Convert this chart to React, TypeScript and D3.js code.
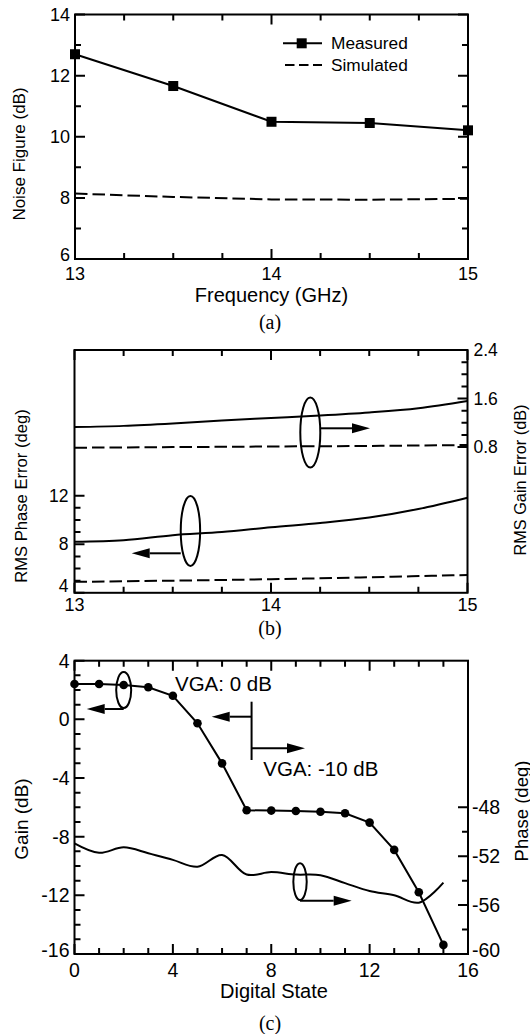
import React from 'react';
import * as d3 from 'd3';

// ---------- (a) Noise figure vs frequency ----------
const nfFreq = [13, 13.5, 14, 14.5, 15];
const nfMeasured = [12.7, 11.66, 10.49, 10.45, 10.21];
const nfSimulated = [8.14, 8.03, 7.95, 7.94, 7.97];
const nfYLabels = [6, 8, 10, 12, 14];
const freqLabels = [13, 14, 15];

// ---------- (b) RMS phase / gain error vs frequency ----------
const errFreq = [13, 13.25, 13.5, 13.75, 14, 14.25, 14.5, 14.75, 15];
const phaseErrMeasured = [8.2, 8.33, 8.75, 9.0, 9.4, 9.75, 10.2, 10.9, 11.83];
const gainErrMeasured = [1.13, 1.15, 1.19, 1.24, 1.28, 1.32, 1.37, 1.44, 1.56];
const errSimFreq = [13, 13.5, 14, 14.5, 15];
const phaseErrSimulated = [4.9, 5.0, 5.12, 5.28, 5.47];
const gainErrSimulated = [0.79, 0.8, 0.81, 0.82, 0.835];
const phaseErrLabels = [4, 8, 12];
const gainErrLabels = [0.8, 1.6, 2.4];

// ---------- (c) Gain and phase vs digital state ----------
const states = [0, 1, 2, 3, 4, 5, 6, 7, 8, 9, 10, 11, 12, 13, 14, 15];
const gainDb = [2.41, 2.41, 2.34, 2.19, 1.61, -0.27, -3.0, -6.2, -6.22, -6.25, -6.3, -6.4, -7.04, -8.9, -11.79, -15.38];
const phaseDeg = [-50.94, -51.72, -51.27, -51.75, -52.3, -52.86, -51.9, -53.5, -53.3, -53.5, -53.55, -54.2, -54.85, -55.2, -55.8, -54.16];
const stateLabels = [0, 4, 8, 12, 16];
const gainLabels = [-16, -12, -8, -4, 0, 4];
const phaseLabels = [-60, -56, -52, -48];

const SANS = "'Liberation Sans', Arial, Helvetica, sans-serif";
const SERIF = "'Liberation Serif', 'Times New Roman', serif";
const INK = '#000';

type Side = 'left' | 'right' | 'top' | 'bottom';

function seq(a: number, b: number, step: number): number[] {
  const out: number[] = [];
  for (let i = 0; a + i * step <= b + 1e-9; i++) out.push(+(a + i * step).toFixed(6));
  return out;
}

function tickPath(values: number[], scale: (v: number) => number, side: Side, edge: number, len: number) {
  return values
    .map((v) => {
      const p = scale(v);
      if (side === 'left') return `M${edge},${p}h${len}`;
      if (side === 'right') return `M${edge},${p}h${-len}`;
      if (side === 'bottom') return `M${p},${edge}v${-len}`;
      return `M${p},${edge}v${len}`;
    })
    .join('');
}

function Ticks(props: { values: number[]; majors: number[]; scale: (v: number) => number; side: Side; edge: number }) {
  const { values, majors, scale, side, edge } = props;
  const isMajor = (v: number) => majors.some((m) => Math.abs(m - v) < 1e-6);
  return (
    <>
      <path d={tickPath(values.filter((v) => !isMajor(v)), scale, side, edge, 6)} stroke={INK} strokeWidth={2} fill="none" />
      <path d={tickPath(values.filter(isMajor), scale, side, edge, 10)} stroke={INK} strokeWidth={2} fill="none" />
    </>
  );
}

function Arrow(props: { x1: number; x2: number; y: number }) {
  const { x1, x2, y } = props;
  const dir = Math.sign(x2 - x1);
  const head = 18;
  const half = 5;
  return (
    <g>
      <line x1={x1} y1={y} x2={x2 - dir * head} y2={y} stroke={INK} strokeWidth={2} />
      <path d={`M${x2},${y}L${x2 - dir * head},${y - half}L${x2 - dir * head},${y + half}Z`} fill={INK} />
    </g>
  );
}

function YTitle(props: { x: number; y: number; size: number; text: string }) {
  return (
    <text
      transform={`translate(${props.x},${props.y}) rotate(-90)`}
      textAnchor="middle"
      dominantBaseline="central"
      fontFamily={SANS}
      fontSize={props.size}
      fill={INK}
    >
      {props.text}
    </text>
  );
}

function PanelA() {
  const x = d3.scaleLinear().domain([13, 15]).range([75, 468]);
  const y = d3.scaleLinear().domain([6, 14]).range([259, 14.5]);
  const [x0, x1] = x.range();
  const [y0, y1] = y.range();
  const line = d3.line<number>().x((_, i) => x(nfFreq[i])).y((d) => y(d));
  const xt = seq(13, 15, 0.25);
  const yt = seq(6, 14, 1);
  return (
    <g>
      <path d={line(nfSimulated) || ''} fill="none" stroke={INK} strokeWidth={2} strokeDasharray="12.5,5" />
      <path d={line(nfMeasured) || ''} fill="none" stroke={INK} strokeWidth={2} />
      {nfMeasured.map((v, i) => (
        <rect key={i} x={x(nfFreq[i]) - 5} y={y(v) - 5} width={10} height={10} fill={INK} />
      ))}
      <rect x={x0} y={y1} width={x1 - x0} height={y0 - y1} fill="none" stroke={INK} strokeWidth={2} />
      <Ticks values={xt} majors={freqLabels} scale={x} side="bottom" edge={y0} />
      <Ticks values={xt} majors={freqLabels} scale={x} side="top" edge={y1} />
      <Ticks values={yt} majors={nfYLabels} scale={y} side="left" edge={x0} />
      <Ticks values={yt} majors={nfYLabels} scale={y} side="right" edge={x1} />
      {nfYLabels.map((v) => (
        <text key={v} x={x0 - 5} y={y(v) - (v === 6 ? 4 : 0)} textAnchor="end" dominantBaseline="central" fontFamily={SANS} fontSize={18}>
          {v}
        </text>
      ))}
      {freqLabels.map((v) => (
        <text key={v} x={x(v)} y={y0 + 15} textAnchor="middle" dominantBaseline="central" fontFamily={SANS} fontSize={18}>
          {v}
        </text>
      ))}
      <text x={(x0 + x1) / 2} y={295} textAnchor="middle" dominantBaseline="central" fontFamily={SANS} fontSize={20}>
        Frequency (GHz)
      </text>
      <YTitle x={19} y={154} size={17} text="Noise Figure (dB)" />
      {/* legend */}
      <line x1={283} y1={43.3} x2={322} y2={43.3} stroke={INK} strokeWidth={2} />
      <rect x={296.7} y={38.3} width={10} height={10} fill={INK} />
      <text x={331} y={43.3} dominantBaseline="central" fontFamily={SANS} fontSize={17.3}>
        Measured
      </text>
      <line x1={285} y1={65} x2={322} y2={65} stroke={INK} strokeWidth={2} strokeDasharray="9.5,4.5" />
      <text x={331} y={65} dominantBaseline="central" fontFamily={SANS} fontSize={17.3}>
        Simulated
      </text>
      <text x={270} y={322} textAnchor="middle" dominantBaseline="central" fontFamily={SERIF} fontSize={20}>
        (a)
      </text>
    </g>
  );
}

function PanelB() {
  const x = d3.scaleLinear().domain([13, 15]).range([74.5, 467.5]);
  const yL = d3.scaleLinear().domain([4, 24]).range([592.8, 350]);
  const yR = d3.scaleLinear().domain([-1.6, 2.4]).range([592.8, 350]);
  const [x0, x1] = x.range();
  const [y0, y1] = yL.range();
  const lineL = (xs: number[]) => d3.line<number>().x((_, i) => x(xs[i])).y((d) => yL(d)).curve(d3.curveMonotoneX);
  const lineR = (xs: number[]) => d3.line<number>().x((_, i) => x(xs[i])).y((d) => yR(d)).curve(d3.curveMonotoneX);
  const xt = seq(13, 15, 0.25);
  return (
    <g>
      <path d={lineL(errFreq)(phaseErrMeasured) || ''} fill="none" stroke={INK} strokeWidth={2} />
      <path d={lineL(errSimFreq)(phaseErrSimulated) || ''} fill="none" stroke={INK} strokeWidth={2} strokeDasharray="12.5,5" />
      <path d={lineR(errFreq)(gainErrMeasured) || ''} fill="none" stroke={INK} strokeWidth={2} />
      <path d={lineR(errSimFreq)(gainErrSimulated) || ''} fill="none" stroke={INK} strokeWidth={2} strokeDasharray="12.5,5" />
      <rect x={x0} y={y1} width={x1 - x0} height={y0 - y1} fill="none" stroke={INK} strokeWidth={2} />
      <Ticks values={xt} majors={freqLabels} scale={x} side="bottom" edge={y0} />
      <Ticks values={xt} majors={freqLabels} scale={x} side="top" edge={y1} />
      <Ticks values={seq(4, 12, 1)} majors={phaseErrLabels} scale={yL} side="left" edge={x0} />
      <Ticks values={seq(0.8, 2.4, 0.2)} majors={gainErrLabels} scale={yR} side="right" edge={x1} />
      {phaseErrLabels.map((v) => (
        <text key={v} x={x0 - 6} y={yL(v) - (v === 4 ? 7 : 0)} textAnchor="end" dominantBaseline="central" fontFamily={SANS} fontSize={17.5}>
          {v}
        </text>
      ))}
      {gainErrLabels.map((v) => (
        <text key={v} x={x1 + 6} y={yR(v)} dominantBaseline="central" fontFamily={SANS} fontSize={17.5}>
          {v.toFixed(1)}
        </text>
      ))}
      {freqLabels.map((v) => (
        <text key={v} x={x(v)} y={y0 + 12} textAnchor="middle" dominantBaseline="central" fontFamily={SANS} fontSize={18}>
          {v}
        </text>
      ))}
      <YTitle x={21} y={496} size={16.6} text="RMS Phase Error (deg)" />
      <YTitle x={520} y={480} size={16.3} text="RMS Gain Error (dB)" />
      {/* series markers: gain error -> right axis, phase error -> left axis */}
      <ellipse cx={x(14.2)} cy={yR(1.04)} rx={10} ry={35} fill="none" stroke={INK} strokeWidth={2} />
      <Arrow x1={x(14.2) + 10} x2={370} y={428.3} />
      <ellipse cx={x(13.59)} cy={yL(9.1)} rx={9.7} ry={35} fill="none" stroke={INK} strokeWidth={2} />
      <Arrow x1={x(13.59) - 9.7} x2={131.7} y={553.3} />
      <text x={270} y={628} textAnchor="middle" dominantBaseline="central" fontFamily={SERIF} fontSize={20}>
        (b)
      </text>
    </g>
  );
}

function PanelC() {
  const x = d3.scaleLinear().domain([0, 16]).range([74.5, 468]);
  const yL = d3.scaleLinear().domain([-16, 4]).range([954, 660.7]);
  const yR = d3.scaleLinear().domain([-60, -36]).range([954, 660.7]);
  const [x0, x1] = x.range();
  const [y0, y1] = yL.range();
  const gainLine = d3.line<number>().x((_, i) => x(states[i])).y((d) => yL(d));
  const phaseLine = d3
    .line<number>()
    .x((_, i) => x(states[i]))
    .y((d) => yR(d))
    .curve(d3.curveCatmullRom.alpha(0.5));
  const xt = seq(0, 16, 1);
  return (
    <g>
      <path d={phaseLine(phaseDeg) || ''} fill="none" stroke={INK} strokeWidth={2} />
      <path d={gainLine(gainDb) || ''} fill="none" stroke={INK} strokeWidth={2} />
      {gainDb.map((v, i) => (
        <circle key={i} cx={x(states[i])} cy={yL(v)} r={4.3} fill={INK} />
      ))}
      <rect x={x0} y={y1} width={x1 - x0} height={y0 - y1} fill="none" stroke={INK} strokeWidth={2} />
      <Ticks values={xt} majors={stateLabels} scale={x} side="bottom" edge={y0} />
      <Ticks values={xt} majors={stateLabels} scale={x} side="top" edge={y1} />
      <Ticks values={seq(-16, 4, 1)} majors={gainLabels} scale={yL} side="left" edge={x0} />
      <Ticks values={seq(-60, -48, 2)} majors={phaseLabels} scale={yR} side="right" edge={x1} />
      {gainLabels.map((v) => (
        <text key={v} x={x0 - 5} y={yL(v) - (v === -16 ? 4 : 0)} textAnchor="end" dominantBaseline="central" fontFamily={SANS} fontSize={19.5}>
          {v}
        </text>
      ))}
      {phaseLabels.map((v) => (
        <text key={v} x={x1 + 4} y={yR(v) - (v === -60 ? 4 : 0)} dominantBaseline="central" fontFamily={SANS} fontSize={19.5}>
          {v}
        </text>
      ))}
      {stateLabels.map((v) => (
        <text key={v} x={x(v)} y={y0 + 16} textAnchor="middle" dominantBaseline="central" fontFamily={SANS} fontSize={19.5}>
          {v}
        </text>
      ))}
      <text x={274} y={991} textAnchor="middle" dominantBaseline="central" fontFamily={SANS} fontSize={20}>
        Digital State
      </text>
      <YTitle x={21} y={819} size={19} text="Gain (dB)" />
      <YTitle x={521} y={811} size={18.5} text="Phase (deg)" />
      {/* series markers */}
      <ellipse cx={x(2)} cy={yL(2)} rx={7.5} ry={18} fill="none" stroke={INK} strokeWidth={2} />
      <Arrow x1={x(2)} x2={86.7} y={yL(2) + 19} />
      <ellipse cx={x(9.17)} cy={yR(-54.08)} rx={6.7} ry={18.3} fill="none" stroke={INK} strokeWidth={2} />
      <Arrow x1={x(9.17)} x2={351.7} y={yR(-54.08) + 19} />
      {/* VGA setting boundary */}
      <line x1={x(7.2)} y1={701.7} x2={x(7.2)} y2={760} stroke={INK} strokeWidth={2} />
      <Arrow x1={x(7.2)} x2={211.7} y={716.7} />
      <Arrow x1={x(7.2)} x2={305} y={748.3} />
      <text x={175} y={690.7} fontFamily={SANS} fontSize={20.5}>
        VGA: 0 dB
      </text>
      <text x={263.3} y={776} fontFamily={SANS} fontSize={20.5}>
        VGA: -10 dB
      </text>
      <text x={270} y={1023} textAnchor="middle" dominantBaseline="central" fontFamily={SERIF} fontSize={20}>
        (c)
      </text>
    </g>
  );
}

export default function App() {
  return (
    <svg
      width={530}
      height={1034}
      viewBox="0 0 530 1034"
      style={{ position: 'absolute', left: 0, top: 0, background: '#fff' }}
    >
      <rect width={530} height={1034} fill="#fff" />
      <PanelA />
      <PanelB />
      <PanelC />
    </svg>
  );
}
